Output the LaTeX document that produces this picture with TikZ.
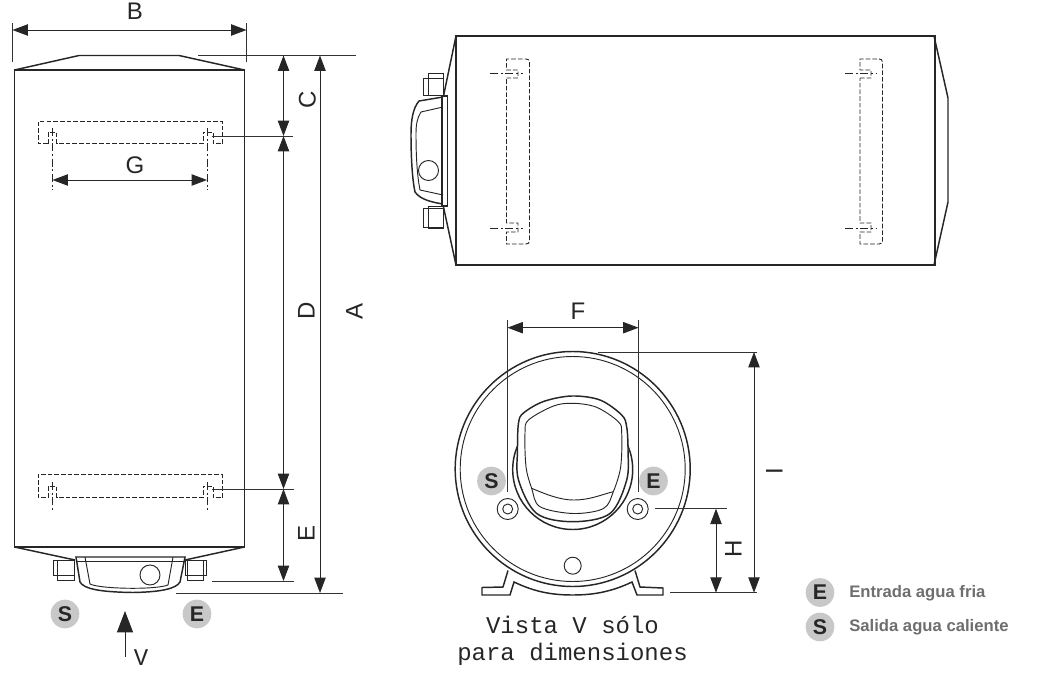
\documentclass[tikz,border=0pt]{standalone}
\usepackage{fontspec}
\setmainfont{Liberation Sans}
\newfontfamily\monofont{Liberation Mono}
\usetikzlibrary{arrows.meta}
\definecolor{badgegray}{RGB}{200,200,200}
\definecolor{legendgray}{RGB}{110,110,110}
\tikzset{
  bodyline/.style={line width=1.3pt,black!85},
  partline/.style={line width=0.7pt,black!85},
  heavyline/.style={line width=1.1pt,black!85},
  hiddenline/.style={line width=0.7pt,black!85,dash pattern=on 3.5pt off 1.5pt},
  centerline/.style={line width=0.6pt,black!85,dash pattern=on 6pt off 2pt on 1.5pt off 2pt},
  extline/.style={line width=0.6pt,black!80},
  dimline/.style={line width=0.7pt,black!85,{Triangle[length=11.5pt,width=8.5pt]}-{Triangle[length=11.5pt,width=8.5pt]}},
  dimlabel/.style={inner sep=0pt,text height=12.9pt,text depth=0pt,font=\fontsize{18}{20}\selectfont,text=black!85},
  badge/.style={circle,fill=badgegray,minimum size=21.5pt,inner sep=0pt,font=\fontsize{16}{18}\bfseries\selectfont,text=black!85},
  legendtext/.style={anchor=west,inner sep=0pt,font=\fontsize{12.5}{14}\bfseries\selectfont,text=legendgray},
  monotext/.style={inner sep=0pt,font=\monofont\fontsize{18}{20.3}\selectfont,text=black!85}
}
\begin{document}
\begin{tikzpicture}[x=0.75pt,y=-0.75pt]
  \useasboundingbox (0,0) rectangle (1039,678);
  % front view
  \draw[bodyline] (14.5,70) rectangle (244.5,547);
  \draw[heavyline] (14.5,70) -- (79,55.5) -- (179,55.5) -- (244.5,70);
  \draw[heavyline] (14.5,547) -- (75,560);
  \draw[heavyline] (244.5,547) -- (185,560);
  \draw[partline] (53.5,560) rectangle (74,575);
  \draw[partline] (57.5,560) rectangle (74,580);
  \draw[partline] (185,560) rectangle (206.5,575);
  \draw[partline] (187.5,560) rectangle (203,580);
  \draw[heavyline,fill=white] (76,557) -- (80,582) .. controls (84,589) and (100,592) .. (133,592.5) .. controls (160,592) and (176,589) .. (180,582) -- (185,557) -- cycle;
  \draw[partline] (76,561) -- (185,561);
  \draw[partline] (85,557) -- (90,584) .. controls (100,589) and (155,590) .. (168,585) -- (173,557);
  \draw[partline] (150,575) circle (10);
  % front view, brackets
  \draw[hiddenline] (48.5,143.5) -- (48.5,132) -- (56.5,132) -- (56.5,143.5) -- (203,143.5) -- (203,132) -- (213,132) -- (213,143.5) -- (222.5,143.5) -- (222.5,121.5) -- (38,121.5) -- (38,143.5) -- cycle;
  \draw[hiddenline] (48.5,497.5) -- (48.5,486) -- (56.5,486) -- (56.5,497.5) -- (203,497.5) -- (203,486) -- (213,486) -- (213,497.5) -- (222.5,497.5) -- (222.5,474.5) -- (38,474.5) -- (38,497.5) -- cycle;
  \draw[centerline] (52.5,128) -- (52.5,190);
  \draw[centerline] (207,128) -- (207,190);
  \draw[centerline] (52.5,482) -- (52.5,512);
  \draw[centerline] (207,482) -- (207,512);
  % front view, dimensions
  \draw[extline] (12,23) -- (12,62);
  \draw[extline] (246.5,23) -- (246.5,62);
  \draw[extline] (198,55) -- (356,55);
  \draw[extline] (212,136) -- (293,136);
  \draw[extline] (212,489) -- (294,489);
  \draw[extline] (212,581) -- (294,581);
  \draw[extline] (176,593) -- (343,593);
  \draw[dimline] (12.5,30) -- (246.5,30);
  \draw[dimline] (52.5,180) -- (207,180);
  \draw[dimline] (283.5,55.5) -- (283.5,136);
  \draw[dimline] (283.5,136) -- (283.5,489);
  \draw[dimline] (283.5,489) -- (283.5,581);
  \draw[dimline] (320,55.5) -- (320,593);
  \node[dimlabel] (labB) at (135,11) {B};
  \node[dimlabel] (labG) at (135,165) {G};
  \node[dimlabel,rotate=90] (labC) at (307,100) {C};
  \node[dimlabel,rotate=90] (labD) at (306,311) {D};
  \node[dimlabel,rotate=90] (labE) at (306,533) {E};
  \node[dimlabel,rotate=90] (labA) at (354,311) {A};
  \node[badge] (badgeSa) at (65,614) {S};
  \node[badge] (badgeEa) at (197,614) {E};
  \draw[line width=0.7pt,black!85,{Triangle[length=16pt,width=12pt]}-] (125,611) -- (125,657);
  \node[monotext] (labV) at (141,658) {V};
  % side view
  \draw[bodyline] (456,36) rectangle (935,265);
  \draw[heavyline] (456,36) -- (443.5,96);
  \draw[heavyline] (456,265) -- (443.5,207);
  \draw[heavyline] (934,36) -- (948,98) -- (948,202) -- (934,265);
  \draw[partline] (423,78) rectangle (443,95);
  \draw[partline] (428,73) rectangle (443,95);
  \draw[partline] (423,208) rectangle (443,227);
  \draw[partline] (428,206) rectangle (443,228);
  \draw[heavyline] (447.5,96) rectangle (442,206);
  \draw[heavyline] (443,97) -- (419,101) .. controls (413,108) and (411,120) .. (411,134) .. controls (411,155) and (412,178) .. (415,192) .. controls (420,199) and (430,202) .. (443,204);
  \draw[partline] (443,107) -- (421,112) .. controls (417,118) and (416,125) .. (416,134) .. controls (416,155) and (417,175) .. (420,190) -- (443,195);
  \draw[partline] (428.5,170.5) circle (10);
  % side view, brackets
  \draw[hiddenline] (506.5,78) -- (518,78) -- (518,70) -- (506.5,70) -- (506.5,59) -- (526,59) .. controls (528,59) and (529.5,60) .. (529.5,62) -- (529.5,241) .. controls (529.5,243) and (528,244) .. (526,244) -- (506.5,244) -- (506.5,232) -- (518,232) -- (518,223) -- (506.5,223) -- cycle;
  \draw[hiddenline] (860,78) -- (871,78) -- (871,70) -- (860,70) -- (860,59) -- (879,59) .. controls (881,59) and (882.5,60) .. (882.5,62) -- (882.5,241) .. controls (882.5,243) and (881,244) .. (879,244) -- (860,244) -- (860,232) -- (871,232) -- (871,223) -- (860,223) -- cycle;
  \draw[centerline] (490,73.5) -- (523,73.5);
  \draw[centerline] (490,228.5) -- (523,228.5);
  \draw[centerline] (845,73.5) -- (876,73.5);
  \draw[centerline] (845,228.5) -- (876,228.5);
  % end view
  \draw[heavyline] (572.7,469) circle (117.5);
  \draw[partline] (572.7,469) circle (112.5);
  \draw[heavyline] (572.7,469.5) circle (60);
  \draw[heavyline,fill=white] plot[smooth cycle,tension=0.55] coordinates {(517.5,450) (518.5,423) (523.5,413) (543.5,401.5) (571.7,396) (600,400) (621.7,415) (626.7,427) (628,450) (626.7,480) (610,513.5) (572.7,521.7) (536.7,513.5) (518.5,480)};
  \draw[partline] plot[smooth cycle,tension=0.55] coordinates {(525,433) (528.5,420) (553.5,406) (573.3,403.3) (596.7,407.3) (618.3,421.7) (621.7,433) (620.7,466.7) (613.3,491.7) (603.5,508.5) (573.3,513.5) (540,506.7) (531.7,488.3) (526,466.7)};
  \draw[partline] (531.7,488.3) .. controls (545,494) and (560,500) .. (573.3,500) .. controls (590,500) and (600,495) .. (613.3,491.7);
  \draw[heavyline] (508,570.5) -- (503,587) -- (482,587.5) -- (482,595) -- (510,595) -- (514,582) .. controls (535,592) and (552,595) .. (572.7,595) .. controls (593,595) and (611,592) .. (632,582) -- (637,595) -- (663,595) -- (663,588) -- (640,587) -- (635,570.5);
  \foreach \ringx in {507.7,637.7} {
    \draw[partline] (\ringx,509) circle (10.5);
    \draw[partline] (\ringx,509) circle (5);
  }
  \draw[partline] (572.7,565.7) circle (8.5);
  \node[badge] (badgeSb) at (491.5,481) {S};
  \node[badge] (badgeEb) at (653.5,481) {E};
  % end view, dimensions
  \draw[extline] (507.5,320) -- (507.5,492);
  \draw[extline] (638.5,320) -- (638.5,492);
  \draw[extline] (598,352) -- (757,352);
  \draw[extline] (655,508.7) -- (727,508.7);
  \draw[extline] (670,592.7) -- (757,592.7);
  \draw[dimline] (507.5,327.7) -- (638.5,327.7);
  \draw[dimline] (754,352) -- (754,592.7);
  \draw[dimline] (716,508.7) -- (716,592.7);
  \node[dimlabel] (labF) at (578,311) {F};
  \node[dimlabel,rotate=90] (labH) at (733,549) {H};
  \node[dimlabel,rotate=90] (labI) at (774,471) {I};
  \node[monotext,align=center] (caption) at (572.5,640.5) {Vista V sólo\\para dimensiones};
  % legend
  \node[badge] (badgeEc) at (820,592.5) {E};
  \node[badge] (badgeSc) at (820,627) {S};
  \node[legendtext] (legendE) at (849,593.5) {Entrada agua fria};
  \node[legendtext] (legendS) at (849,627.5) {Salida agua caliente};
\end{tikzpicture}
\end{document}
